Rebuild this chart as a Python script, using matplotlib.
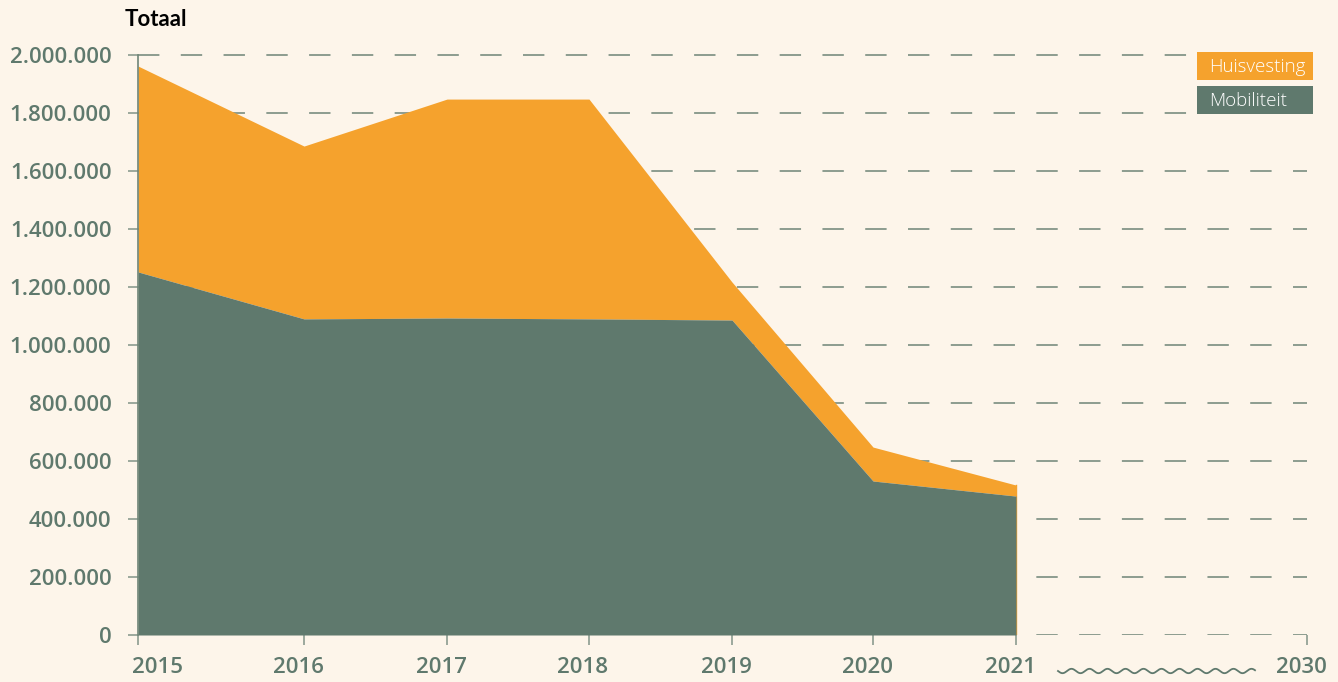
import numpy as np
import matplotlib.pyplot as plt
import matplotlib.transforms as mtransforms
from matplotlib.lines import Line2D
from matplotlib.patches import Rectangle

# data
years = ["2015", "2016", "2017", "2018", "2019", "2020", "2021"]
mobiliteit = [1252000, 1090000, 1093000, 1090000, 1086000, 531000, 479000]
huisvesting = [710000, 596000, 755000, 758000, 131000, 117000, 38000]
end_year = "2030"
y_ticks = [0, 200000, 400000, 600000, 800000, 1000000, 1200000, 1400000,
           1600000, 1800000, 2000000]

# layout: the axis is not evenly spaced, and is broken between 2021 and 2030
x_pos = [0, 1.169, 2.176, 3.176, 4.183, 5.176, 6.183]
x_end = 8.232

bg = "#fdf5ea"
orange = "#f5a22d"
green = "#5f796d"
grid_c = "#8c9c8f"

W, H = 1338, 682
fig = plt.figure(figsize=(W / 100, H / 100), dpi=100, facecolor=bg)
ax = fig.add_axes([138 / W, 1 - 635 / H, (1307 - 138) / W, (635 - 45) / H])
ax.set_facecolor(bg)

ax.set_xlim(0, x_end)
ax.set_ylim(0, 590 / 0.29 * 1000)

for v in y_ticks:
    ax.axhline(v, color=grid_c, lw=1.4, dashes=(11, 11), zorder=1)

total = np.array(mobiliteit) + np.array(huisvesting)
ax.fill_between(x_pos, 0, mobiliteit, color=green, lw=0, zorder=3)
ax.fill_between(x_pos, mobiliteit, total, color=orange, lw=0, zorder=2)
ax.plot([x_pos[-1], x_pos[-1]], [0, total[-1]], color=orange, lw=1, zorder=2)

for s in ["top", "right", "bottom"]:
    ax.spines[s].set_visible(False)
ax.spines["left"].set_color("#6f8577")
ax.spines["left"].set_linewidth(1.2)
ax.spines["left"].set_bounds(0, 2000000)
ax.spines["left"].set_zorder(4)

ax.set_yticks(y_ticks)
ax.set_yticklabels([f"{v:,.0f}".replace(",", ".") for v in y_ticks])
ax.set_xticks(x_pos + [x_end])
ax.set_xticklabels(years + [end_year])
ax.tick_params(axis="both", colors=grid_c, length=7, width=1.2, labelcolor=green,
               labelsize=16)
ax.tick_params(axis="y", pad=12)
ax.tick_params(axis="x", pad=9)
for lbl in ax.get_xticklabels() + ax.get_yticklabels():
    lbl.set_fontfamily(["Open Sans", "DejaVu Sans"])
    lbl.set_fontweight("semibold")

# shift the year labels a few pixels left, like the original
xl = ax.get_xticklabels()
xl[0].set_horizontalalignment("left")
for t in xl:
    off = mtransforms.ScaledTranslation(-6 / 100, 0, fig.dpi_scale_trans)
    t.set_transform(t.get_transform() + off)

fig.text(125 / W, 1 - 20 / H, "Totaal", fontsize=16, fontweight="bold",
         family=["Lato", "DejaVu Sans"], color="black", va="center", ha="left")

# legend boxes
for i, (name, col) in enumerate([("Huisvesting", orange), ("Mobiliteit", green)]):
    y0 = 52 + i * 34
    fig.add_artist(Rectangle((1197 / W, 1 - (y0 + 28) / H), 116 / W, 28 / H,
                             transform=fig.transFigure, color=col, lw=0))
    fig.text(1209 / W, 1 - (y0 + 15) / H, name, color="white", fontsize=13.5,
             family=["Open Sans", "DejaVu Sans"], fontweight="light",
             va="center", ha="left")

# wavy break line between 2021 and 2030
wx = np.linspace(1058, 1255, 400)
wy = 671 + 2.2 * np.sin((wx - 1058) / 18 * 2 * np.pi)
fig.add_artist(Line2D(wx / W, 1 - wy / H, transform=fig.transFigure,
                      color=green, lw=1.3))

fig.savefig("out.png", dpi=100, facecolor=bg)
